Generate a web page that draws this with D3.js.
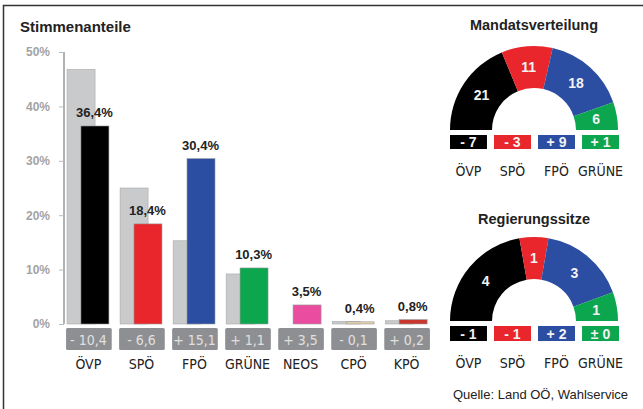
<!DOCTYPE html>
<html>
<head>
<meta charset="utf-8">
<script src="https://cdn.jsdelivr.net/npm/d3@7"></script>
<style>
  body { margin: 0; background: #fff; }
  svg { display: block; }
  .narrow { font-family: "Liberation Sans Narrow", "Arial Narrow", "DejaVu Sans Condensed", sans-serif; }
</style>
</head>
<body>
<svg id="chart" width="643" height="409"></svg>
<script>
// Stimmenanteile
var parties = ["ÖVP", "SPÖ", "FPÖ", "GRÜNE", "NEOS", "CPÖ", "KPÖ"];
var votes = [36.4, 18.4, 30.4, 10.3, 3.5, 0.4, 0.8];
var votesPrev = [46.8, 25.0, 15.3, 9.2, 0, 0.5, 0.6];
var voteChange = ["- 10,4", "- 6,6", "+ 15,1", "+ 1,1", "+ 3,5", "- 0,1", "+ 0,2"];
var voteLabels = ["36,4%", "18,4%", "30,4%", "10,3%", "3,5%", "0,4%", "0,8%"];
var colors = ["#000000", "#e8262b", "#2b4ea2", "#0ca64f", "#ea4c9f", "#e3d3ad", "#c8372d"];
var yTicks = [0, 10, 20, 30, 40, 50];

// Mandatsverteilung
var seatParties = ["ÖVP", "SPÖ", "FPÖ", "GRÜNE"];
var seats = [21, 11, 18, 6];
var seatChange = ["- 7", "- 3", "+ 9", "+ 1"];
// Regierungssitze
var govSeats = [4, 1, 3, 1];
var govChange = ["- 1", "- 1", "+ 2", "± 0"];
var seatColors = ["#000000", "#e8262b", "#2b4ea2", "#0ca64f"];

var svg = d3.select("#chart");

// frame
svg.append("path")
    .attr("d", "M3.5,409 V5.5 H643")
    .attr("fill", "none")
    .attr("stroke", "#333")
    .attr("stroke-width", 1.5);

svg.append("text")
    .attr("x", 20).attr("y", 32)
    .attr("font-family", "Liberation Sans, Arial, sans-serif")
    .attr("font-weight", "bold")
    .attr("font-size", 15)
    .attr("fill", "#222")
    .text("Stimmenanteile");

var y = d3.scaleLinear().domain([0, 50]).range([324, 52]);
var x = d3.scaleBand().domain(parties).range([64, 431]).paddingInner(0.12).paddingOuter(0.02);

// axis
var axis = svg.append("g").attr("transform", "translate(64,0)")
    .call(d3.axisLeft(y).tickValues(yTicks).tickSize(5).tickPadding(9).tickFormat(d => d + "%"));
axis.select(".domain").attr("stroke", "#999").attr("stroke-width", 1.5).attr("d", "M0," + y(50) + "V" + y(0));
axis.selectAll(".tick line").attr("stroke", "#bbb");
axis.selectAll(".tick text")
    .attr("font-family", "Liberation Sans, Arial, sans-serif")
    .attr("font-weight", "bold")
    .attr("font-size", 12)
    .attr("fill", "#a3a3a3");

var bw = x.bandwidth();
var g = svg.append("g");

parties.forEach(function(p, i) {
  var x0 = x(p);
  if (votesPrev[i] > 0) {
    g.append("rect")
        .attr("x", x0 + 2).attr("y", y(votesPrev[i]))
        .attr("width", bw * 0.6).attr("height", y(0) - y(votesPrev[i]))
        .attr("fill", "#c9cacc").attr("stroke", "#a9a9a9").attr("stroke-width", 0.6);
  }
  g.append("rect")
      .attr("x", x0 + bw * 0.34).attr("y", y(votes[i]))
      .attr("width", bw * 0.6).attr("height", y(0) - y(votes[i]))
      .attr("fill", colors[i]).attr("stroke", "#9a9a9a").attr("stroke-width", 0.6);

  g.append("text")
      .attr("x", x0 + bw * 0.63).attr("y", y(votes[i]) - 9)
      .attr("text-anchor", "middle")
      .attr("font-family", "Liberation Sans, Arial, sans-serif")
      .attr("font-weight", "bold")
      .attr("font-size", 13)
      .attr("fill", "#222")
      .text(voteLabels[i]);

  g.append("rect")
      .attr("x", x0 + 1).attr("y", 328)
      .attr("width", bw - 1).attr("height", 22)
      .attr("rx", 1.5)
      .attr("fill", "#8e8f92");
  g.append("text")
      .attr("class", "narrow")
      .attr("x", x0 + bw / 2).attr("y", 344.5)
      .attr("text-anchor", "middle")
      .attr("font-size", 14)
      .attr("fill", "#e0e0e0")
      .text(voteChange[i]);
  g.append("text")
      .attr("class", "narrow")
      .attr("x", x0 + bw / 2).attr("y", 369)
      .attr("text-anchor", "middle")
      .attr("font-size", 14)
      .attr("fill", "#222")
      .text(p);
});

// semicircle charts
function hemicycle(title, titleY, cy, values, changes, boxH) {
  var cx = 534, rOut = 84, rIn = 42;
  var pie = d3.pie().sort(null).startAngle(-Math.PI / 2).endAngle(Math.PI / 2);
  var arc = d3.arc().innerRadius(rIn).outerRadius(rOut);
  var h = svg.append("g").attr("transform", "translate(" + cx + "," + cy + ")");
  var arcs = pie(values);
  h.selectAll("path").data(arcs).enter().append("path")
      .attr("d", arc)
      .attr("fill", (d, i) => seatColors[i]);
  h.selectAll("text.v").data(arcs).enter().append("text")
      .attr("class", "v")
      .attr("transform", d => "translate(" + arc.centroid(d) + ")")
      .attr("dy", "0.36em")
      .attr("text-anchor", "middle")
      .attr("font-family", "Liberation Sans, Arial, sans-serif")
      .attr("font-weight", "bold")
      .attr("font-size", 14)
      .attr("fill", "#f2f2f2")
      .text(d => d.data);

  svg.append("text")
      .attr("x", cx).attr("y", titleY)
      .attr("text-anchor", "middle")
      .attr("font-family", "Liberation Sans, Arial, sans-serif")
      .attr("font-weight", "bold")
      .attr("font-size", 14.5)
      .attr("fill", "#222")
      .text(title);

  var bx = d3.scaleBand().domain(seatParties).range([cx - rOut, cx + rOut + 1]).paddingInner(0.16);
  seatParties.forEach(function(p, i) {
    svg.append("rect")
        .attr("x", bx(p)).attr("y", cy + 5)
        .attr("width", bx.bandwidth()).attr("height", boxH)
        .attr("fill", seatColors[i]);
    svg.append("text")
        .attr("x", bx(p) + bx.bandwidth() / 2).attr("y", cy + 5 + boxH / 2)
        .attr("dy", "0.36em")
        .attr("text-anchor", "middle")
        .attr("font-family", "Liberation Sans, Arial, sans-serif")
        .attr("font-weight", "bold")
        .attr("font-size", 14)
        .attr("fill", "#f2f2f2")
        .text(changes[i]);
    svg.append("text")
        .attr("class", "narrow")
        .attr("x", bx(p) + bx.bandwidth() / 2).attr("y", cy + 5 + boxH + 27)
        .attr("text-anchor", "middle")
        .attr("font-size", 14)
        .attr("fill", "#222")
        .text(p);
  });
}

hemicycle("Mandatsverteilung", 30, 130, seats, seatChange, 14);
hemicycle("Regierungssitze", 224, 321, govSeats, govChange, 15);

svg.append("text")
    .attr("x", 628).attr("y", 399)
    .attr("text-anchor", "end")
    .attr("font-family", "Liberation Sans, Arial, sans-serif")
    .attr("font-size", 13)
    .attr("fill", "#222")
    .text("Quelle: Land OÖ, Wahlservice");
</script>
</body>
</html>
